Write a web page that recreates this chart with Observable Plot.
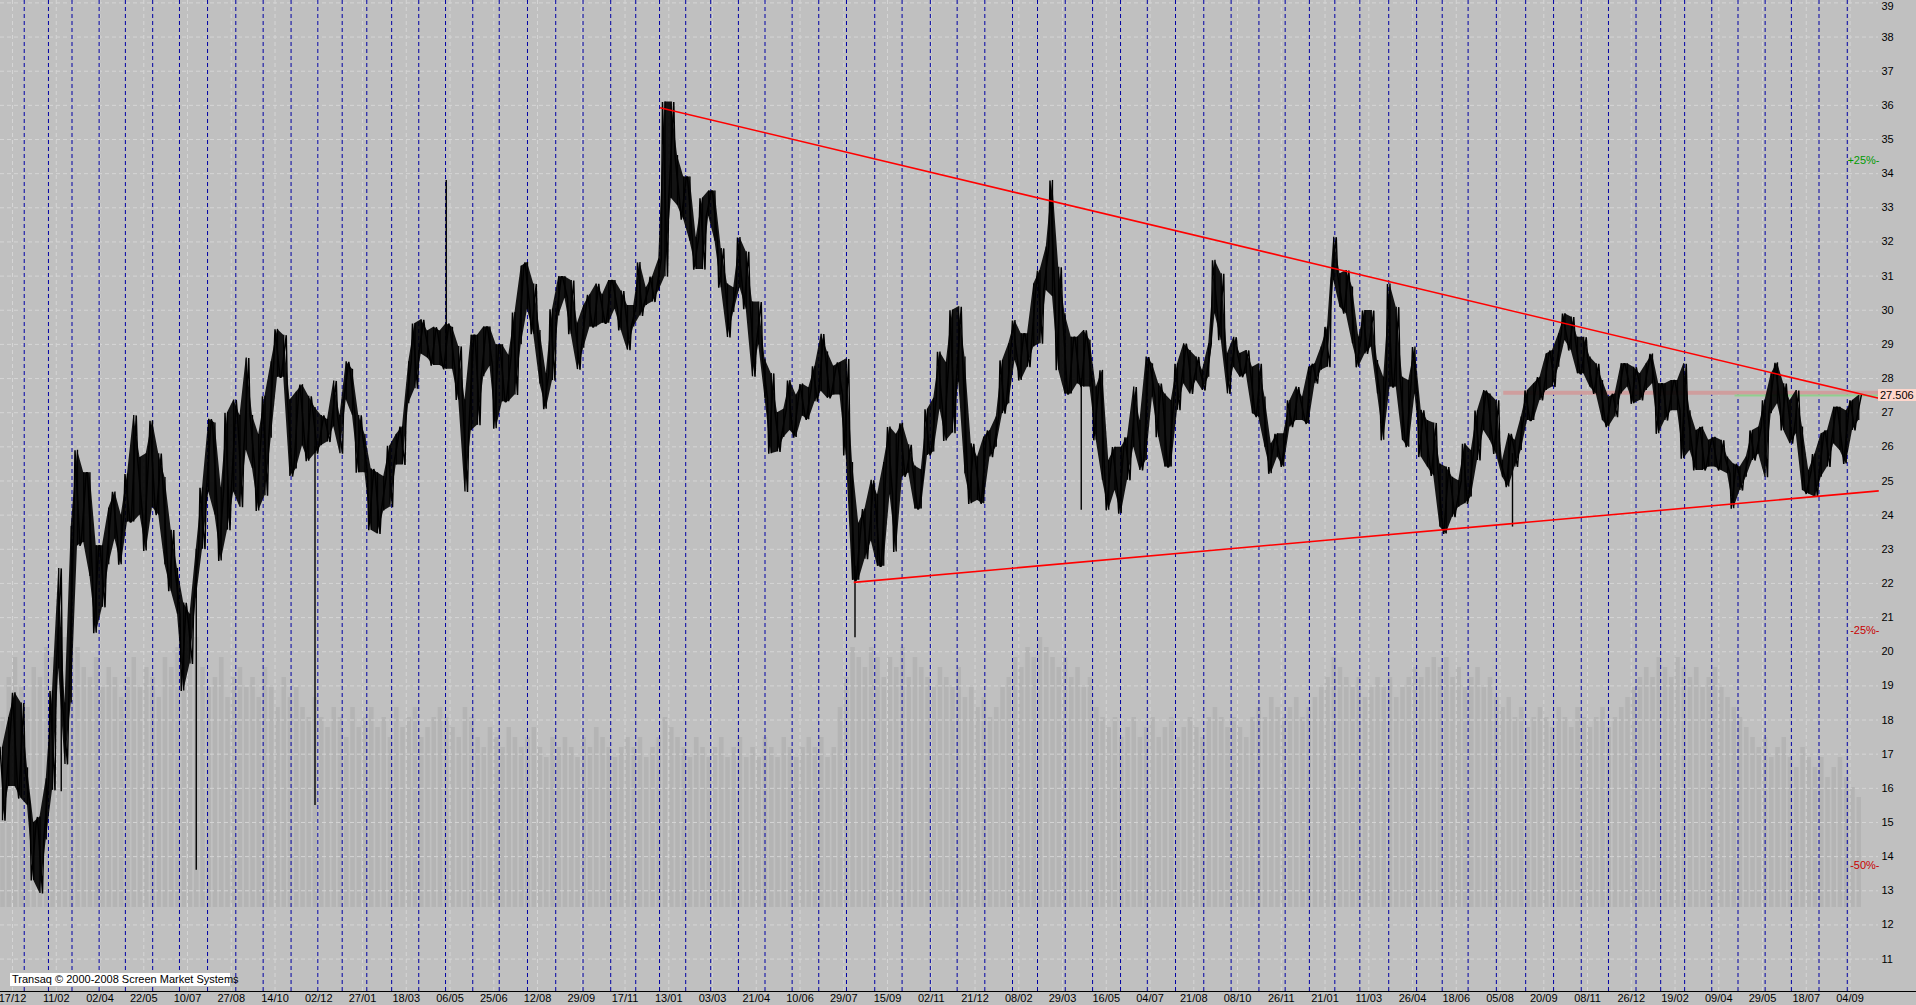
<!DOCTYPE html>
<html><head><meta charset="utf-8">
<script src="https://cdn.jsdelivr.net/npm/d3@7"></script>
<script src="https://cdn.jsdelivr.net/npm/@observablehq/plot@0.6"></script>
<style>
html,body{margin:0;padding:0;background:#c0c0c0;overflow:hidden;}
#wrap{position:relative;width:1916px;height:1005px;overflow:hidden;}
#wrap svg{position:absolute;left:0;top:0;}
.copy{position:absolute;left:10px;top:973px;height:13px;width:220px;background:#fff;color:#000;font:11px "Liberation Sans",Arial,sans-serif;line-height:13px;padding-left:2px;box-sizing:border-box;white-space:nowrap;}
.last{position:absolute;left:1878px;width:38px;height:12px;background:#ffd6cc;color:#000;font:11px "Liberation Sans",Arial,sans-serif;line-height:12px;padding-left:2px;box-sizing:border-box;}
.axisline{position:absolute;left:0;width:1916px;height:1px;background:#000;}
</style></head><body><div id="wrap"></div>
<script>
// ---- data: weekly (5-bar) price ranges ----
const lows = [
15.05,16.05,16.05,15.7,15.5,13.3,12.92,14.49,15.94,19.5,
16.7,18.5,23.1,23.2,22.2,20.54,21.3,22.55,23.3,22.55,
23.8,23.8,24.0,22.95,24.23,24.0,22.55,21.77,21.1,18.85,
19.64,21.55,23.0,24.68,24.0,22.66,23.56,24.68,24.23,25.9,
25.36,24.12,24.57,26.25,28.04,28.04,25.13,25.35,26.03,25.58,
25.8,26.03,26.14,26.59,25.8,27.37,26.92,25.24,25.24,23.56,
23.45,24.12,24.23,25.47,25.47,27.26,27.7,28.72,28.6,28.38,
28.38,28.27,28.27,27.37,24.68,26.47,26.63,28.05,28.36,26.53,
27.32,27.32,27.52,28.99,30.03,29.3,27.84,27.1,27.94,29.83,
30.35,29.3,28.26,28.89,29.51,29.51,29.62,29.62,30.03,29.41,
28.83,29.51,29.83,30.14,30.24,30.56,30.98,33.28,33.07,32.65,
32.02,31.19,31.19,32.75,32.02,30.66,29.2,29.93,30.66,30.03,
28.05,28.99,27.42,25.8,25.85,26.27,26.48,26.27,26.9,26.79,
27.32,27.63,27.42,27.52,27.52,25.75,22.09,22.09,22.71,23.24,
22.5,22.5,24.6,22.92,25.12,25.23,24.18,24.18,25.75,25.85,
27.1,26.17,26.4,27.9,25.21,24.33,24.43,24.33,25.7,25.99,
26.97,27.26,28.53,27.94,28.33,28.92,29.02,30.58,30.4,28.24,
27.55,27.55,27.85,27.75,27.75,26.19,25.02,24.14,24.72,24.04,
25.02,25.99,25.31,25.6,27.46,26.28,25.41,25.41,27.07,27.85,
27.55,27.94,27.65,28.04,29.9,29.12,27.55,28.33,28.04,28.14,
26.97,26.87,25.99,25.21,25.7,25.41,26.58,26.77,26.77,26.67,
27.85,28.24,28.33,30.87,30.09,29.9,29.02,28.33,28.72,28.92,
27.55,26.19,27.75,27.75,26.19,25.99,27.55,25.7,25.41,25.15,
23.65,23.45,23.94,24.23,24.33,24.53,25.6,26.48,26.19,25.79,
25.11,24.82,25.41,25.89,26.77,26.77,27.36,27.65,27.75,28.33,
29.11,28.82,28.14,28.14,27.75,27.55,26.77,26.58,26.87,27.55,
27.75,27.26,27.36,27.65,27.85,26.38,26.77,27.06,27.06,25.65,
25.89,25.31,25.31,25.41,25.41,25.31,25.21,24.19,24.72,25.11,
25.6,25.79,25.11,26.97,27.26,26.48,26.09,26.38,24.72,24.62,
24.53,25.11,25.41,26.09,25.89,25.5,26.48,26.77
];
const highs = [
17.2,18.07,18.8,18.5,16.6,15.0,15.16,16.28,18.85,22.44,
18.5,23.67,25.9,25.24,25.24,23.1,23.1,24.2,24.68,24.0,
25.2,26.92,25.69,25.8,26.76,25.8,25.1,23.56,22.44,21.43,
21.1,23.0,24.8,26.81,26.7,24.8,27.0,27.37,26.92,28.6,
26.92,26.36,27.48,28.49,29.44,29.27,27.37,27.6,27.82,27.48,
27.15,26.92,26.8,27.93,26.92,28.49,28.27,26.92,26.36,25.35,
25.24,25.13,26.03,26.36,26.59,28.49,29.61,29.72,29.39,29.5,
29.39,29.61,29.5,28.94,27.37,29.27,29.27,29.51,29.51,28.99,
28.99,28.68,29.93,31.29,31.4,30.77,29.41,28.15,30.03,30.98,
30.98,30.87,29.62,30.14,30.45,30.77,30.45,30.87,30.87,30.56,
30.14,30.14,31.4,30.66,30.98,31.5,36.1,36.1,34.53,33.9,
33.9,32.13,33.28,33.49,33.49,31.81,30.77,30.66,32.13,31.71,
30.24,30.24,28.57,28.15,27.0,27.1,27.94,27.52,27.84,27.73,
28.36,29.3,28.78,28.36,28.47,28.57,25.54,23.76,24.18,25.02,
24.6,25.54,26.58,26.37,26.69,26.06,25.44,25.33,27.1,27.42,
28.78,28.47,30.0,30.1,28.63,26.09,25.7,26.28,26.48,26.87,
28.53,29.02,29.7,29.31,29.31,30.77,31.16,31.85,33.8,31.26,
29.9,29.21,29.21,29.41,29.12,27.75,28.24,25.6,25.99,25.99,
26.28,27.75,26.77,28.63,28.43,27.85,27.55,27.36,28.43,29.02,
28.82,28.63,28.24,29.02,31.46,31.07,28.73,29.21,28.73,28.82,
28.33,28.43,27.46,26.09,26.38,26.38,27.36,27.75,27.46,28.33,
28.43,28.92,29.51,32.14,31.07,31.16,30.68,29.21,29.99,29.99,
28.53,28.04,30.77,30.09,28.04,27.94,28.92,27.07,26.77,26.7,
25.5,25.41,25.11,25.01,26.09,25.89,27.06,27.65,27.55,27.36,
25.6,26.38,26.19,26.87,27.65,27.85,28.04,28.72,28.82,29.31,
29.9,29.8,29.21,29.21,28.63,28.43,27.94,27.46,27.55,28.43,
28.43,28.33,28.14,28.43,28.72,27.85,27.85,27.94,27.94,28.43,
27.06,26.48,26.58,26.19,26.28,26.19,25.7,25.5,25.41,25.7,
26.48,26.58,27.36,28.14,28.46,27.85,27.36,27.65,26.58,25.31,
25.79,26.38,26.48,27.16,27.16,27.06,27.36,27.5
];
// weekly peak volume (relative units)
const volumes = [
190,230,250,220,200,240,230,260,250,280,
270,300,260,240,230,250,220,240,230,210,
230,250,220,240,230,210,250,240,260,230,
250,270,240,220,230,250,210,230,240,220,
230,210,240,220,200,230,210,220,200,190,
210,190,180,200,190,170,200,180,190,200,
180,190,170,200,180,190,200,170,180,190,
200,190,180,170,200,190,170,160,180,170,
160,180,170,160,170,180,160,150,170,160,
170,160,150,170,160,180,170,160,150,160,
170,160,170,150,160,170,190,180,170,160,
150,170,160,150,160,170,150,160,170,150,
160,150,170,160,150,170,160,150,160,170,
160,170,150,160,200,230,260,250,240,260,
250,230,250,240,260,230,250,240,230,220,
240,230,220,240,210,220,200,210,190,200,
220,230,250,240,260,250,270,260,250,240,
250,230,240,220,230,200,190,180,190,170,
180,190,170,180,190,170,180,190,170,180,
190,180,170,190,200,190,180,190,180,170,
190,200,190,210,200,190,200,210,190,200,
210,220,230,250,240,230,220,230,210,220,
230,220,230,210,220,230,240,230,240,250,
240,250,230,240,220,230,240,220,230,210,
200,210,190,200,180,190,200,190,180,200,
190,180,200,190,180,190,200,180,190,200,
210,220,230,240,230,250,240,230,250,240,
230,240,220,230,240,220,210,200,190,180,
170,160,170,150,160,170,150,140,160,150,
140,150,130,140,150,130,120,110
];
// single-day spikes (bar index, low, high)
const spikeBars  = [49, 157, 252, 357, 684, 865, 1210];
const spikeLows  = [15.9, 13.6, 15.5, 28.5, 20.41, 24.14, 23.65];
const spikeHighs = [20.7, 22.5, 26.0, 33.8, 22.5, 28.0, 25.8];
// date labels on the time axis (one every 35 bars)
const tickDates = ["2002-12-17","2003-02-11","2003-04-02","2003-05-22","2003-07-10","2003-08-27","2003-10-14","2003-12-02",
"2004-01-27","2004-03-18","2004-05-06","2004-06-25","2004-08-12","2004-09-29","2004-11-17",
"2005-01-13","2005-03-03","2005-04-21","2005-06-10","2005-07-29","2005-09-15","2005-11-02","2005-12-21",
"2006-02-08","2006-03-29","2006-05-16","2006-07-04","2006-08-21","2006-10-08","2006-11-26",
"2007-01-21","2007-03-11","2007-04-26","2007-06-18","2007-08-05","2007-09-20","2007-11-08","2007-12-26",
"2008-02-19","2008-04-09","2008-05-29","2008-07-18","2008-09-04"];
// trend lines (bar, price) -> (bar, price)
const trendFromBar = [528, 683], trendFromPrice = [35.93, 22.03];
const trendToBar = [1503, 1503], trendToPrice = [27.42, 24.71];
// horizontal levels
const levelFromBar = [1203, 1388], levelPrice = [27.58, 27.5];
const lastPrice = 27.506;
const pctLevels = [0.25, -0.25, -0.5];
const priceTicks = d3.range(11, 39);
const topTick = 39;

// ---- layout ----
const W = 1916, H = 1005, mRight = 38, mBottom = 14;
const barsPerSample = 5, barsPerTick = 35, firstTickBar = 10;
const xDomain = [0.4, 1502.8];
const yDomain = [10.05, 39.07];
const font = "Liberation Sans, Arial, sans-serif";

const bars = lows.map((lo, i) => ({bar: i * barsPerSample + 2, low: lo, high: highs[i], vol: volumes[i]}));
// each weekly range is drawn as a pair of slanted strokes, like packed daily bars
const zig = [];
bars.forEach((d, i) => {
  const first = i % 2 ? d.low : d.high, second = i % 2 ? d.high : d.low;
  zig.push({bar: d.bar - 2, p: first}, {bar: d.bar + 2, p: second});
});
const spikes = spikeBars.map((b, i) => ({bar: b, low: spikeLows[i], high: spikeHighs[i]}));
const trends = trendFromBar.map((b, i) => ({x1: b, y1: trendFromPrice[i], x2: trendToBar[i], y2: trendToPrice[i]}));
const levels = [
  {from: levelFromBar[0], price: levelPrice[0], color: "#cf9e9e", w: 4},
  {from: levelFromBar[1], price: levelPrice[1], color: "#8fcf8f", w: 2}
];
const parse = d3.timeParse("%Y-%m-%d");
const fmt = d3.timeFormat("%d/%m");
const tDates = tickDates.map(parse);
const tickBars = tDates.map((_, k) => firstTickBar + k * barsPerTick);
const labelOf = new Map(tickBars.map((b, k) => [b, fmt(tDates[k])]));
const dateToBar = d3.scaleLinear().domain(tDates).range(tickBars);
const monthBars = d3.timeMonth.range(d3.timeDay.offset(tDates[0], 1), d3.timeDay.offset(tDates[tDates.length - 1], 1)).map(d => dateToBar(d));
const pcts = pctLevels.map(p => ({price: lastPrice * (1 + p), label: (p > 0 ? "+" : "") + Math.round(p * 100) + "%-", color: p > 0 ? "#009a00" : "#c80000"}));

const wrap = document.getElementById("wrap");

const volPlot = Plot.plot({
  width: W, height: H, marginTop: 107, marginBottom: 98, marginLeft: 0, marginRight: mRight,
  style: {background: "transparent"},
  x: {domain: xDomain, axis: null},
  y: {domain: [0, 800], axis: null},
  marks: [
    Plot.ruleX(bars, {x: "bar", y1: 0, y2: "vol", stroke: "#b4b4b4", strokeWidth: 4.6})
  ]
});
wrap.appendChild(volPlot);

const main = Plot.plot({
  width: W, height: H, marginTop: 0, marginBottom: mBottom, marginLeft: 0, marginRight: mRight,
  style: {background: "transparent", fontFamily: font, color: "#000", overflow: "hidden"},
  x: {domain: xDomain},
  y: {domain: yDomain},
  marks: [
    Plot.ruleY(priceTicks.concat([topTick]), {stroke: "#d5d5d5", strokeDasharray: "4,3"}),
    Plot.ruleX(tickBars, {stroke: "#d5d5d5", strokeDasharray: "4,3"}),
    Plot.ruleX(monthBars, {stroke: "#0000a4", strokeDasharray: "4,3"}),
    Plot.ruleY(levels, {y: "price", x1: "from", x2: () => xDomain[1], stroke: "color", strokeWidth: "w"}),
    Plot.areaY(bars, {x: "bar", y1: "low", y2: "high", fill: "#000", fillOpacity: 0.9, curve: "linear"}),
    Plot.line(zig, {x: "bar", y: "p", stroke: "#000", strokeWidth: 1.5, strokeLinejoin: "miter"}),
    Plot.ruleX(bars, {x: "bar", y1: "low", y2: "high", stroke: "#000", strokeWidth: 1.3}),
    Plot.ruleX(spikes, {x: "bar", y1: "low", y2: "high", stroke: "#000", strokeWidth: 1.4}),
    Plot.link(trends, {x1: "x1", y1: "y1", x2: "x2", y2: "y2", stroke: "#ff0000", strokeWidth: 1.6}),
    Plot.text(pcts, {y: "price", text: "label", fill: "color", frameAnchor: "right", textAnchor: "end", dx: 1, fontSize: 11}),
    Plot.axisY(priceTicks, {anchor: "right", tickSize: 0, tickPadding: 3, fontSize: 11}),
    Plot.text([topTick], {y: d => d, text: d => String(d), frameAnchor: "right", textAnchor: "start", dx: 3, dy: 4, fontSize: 11}),
    Plot.axisX(tickBars, {anchor: "bottom", tickSize: 0, tickPadding: 3, fontSize: 11, tickFormat: d => labelOf.get(d)})
  ]
});
wrap.appendChild(main);

const ys = main.scale("y");
const axisLine = document.createElement("div");
axisLine.className = "axisline";
axisLine.style.top = Math.round(ys.apply(yDomain[0])) + "px";
wrap.appendChild(axisLine);

const last = document.createElement("div");
last.className = "last";
last.textContent = lastPrice.toFixed(3);
last.style.top = Math.round(ys.apply(lastPrice) - 6) + "px";
wrap.appendChild(last);

const copy = document.createElement("div");
copy.className = "copy";
copy.textContent = "Transaq \u00a9 2000-2008 Screen Market Systems";
wrap.appendChild(copy);
</script>
</body></html>
